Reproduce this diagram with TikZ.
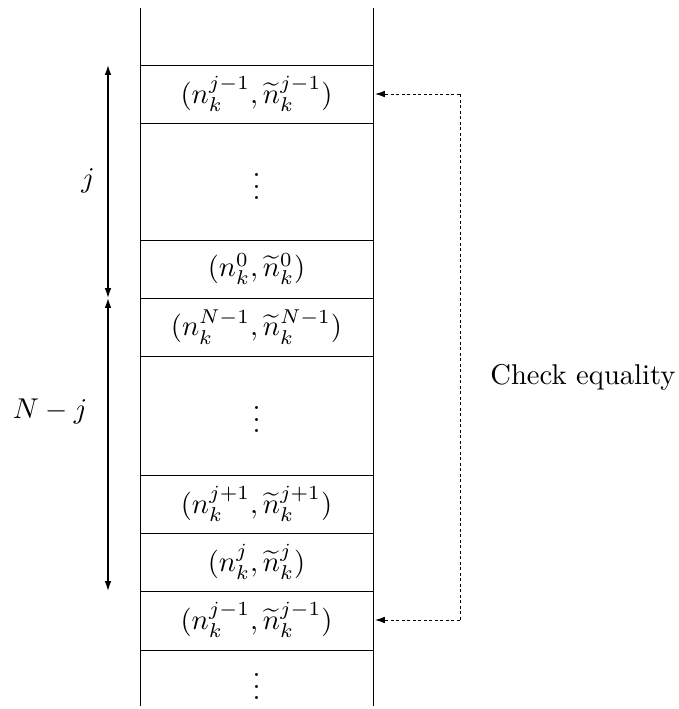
\documentclass[tikz,border=0pt]{standalone}
\usetikzlibrary{arrows.meta}
\begin{document}
\begin{tikzpicture}[x=0.4545pt,y=-0.4545pt,
  every node/.style={scale=1.3},
  sep/.style={line width=0.4pt},
  dim/.style={line width=0.6pt,{Latex[length=4.5pt,width=3pt]}-{Latex[length=4.5pt,width=3pt]}},
  dsh/.style={dash pattern=on 1.5pt off 1pt,line width=0.4pt},
  chk/.style={dsh,-{Latex[length=4.5pt,width=3pt]}},
  cell/.style={inner sep=0pt}]
\useasboundingbox (0,0) rectangle (679,709);
\coordinate (tl) at (140,8);
\coordinate (bl) at (140,706);
\coordinate (tr) at (373,8);
\coordinate (br) at (373,706);
\draw[sep] (tl) -- (bl);
\draw[sep] (tr) -- (br);
\foreach \y in {65,123,240,298,356,475,533,591,650}
  \draw[sep] (140,\y) -- (373,\y);
\node[cell] (r1) at (256.5,94) {$(n_k^{j-1},\widetilde{n}_k^{j-1})$};
\node[cell] (d1) at (256.5,178) {$\vdots$};
\node[cell] (r2) at (256.5,269) {$(n_k^{0},\widetilde{n}_k^{0})$};
\node[cell] (r3) at (256.5,327) {$(n_k^{N-1},\widetilde{n}_k^{N-1})$};
\node[cell] (d2) at (256.5,411) {$\vdots$};
\node[cell] (r4) at (256.5,504) {$(n_k^{j+1},\widetilde{n}_k^{j+1})$};
\node[cell] (r5) at (256.5,562) {$(n_k^{j},\widetilde{n}_k^{j})$};
\node[cell] (r6) at (256.5,620) {$(n_k^{j-1},\widetilde{n}_k^{j-1})$};
\node[cell] (d3) at (256.5,678) {$\vdots$};
\coordinate (a1) at (108,65);
\coordinate (a2) at (108,298);
\coordinate (a3) at (108,591);
\draw[dim] (a2) -- (a1);
\draw[dim] (a2) -- (a3);
\node (lj) at (88,181) {$j$};
\node (lnj) at (50,411) {$N-j$};
\coordinate (e1) at (375,94);
\coordinate (e2) at (375,620);
\coordinate (c1) at (460,94);
\coordinate (c2) at (460,620);
\draw[chk] (c1) -- (e1);
\draw[chk] (c2) -- (e2);
\draw[dsh] (c1) -- (c2);
\node (ce) at (583,377) {Check equality};
\end{tikzpicture}
\end{document}
